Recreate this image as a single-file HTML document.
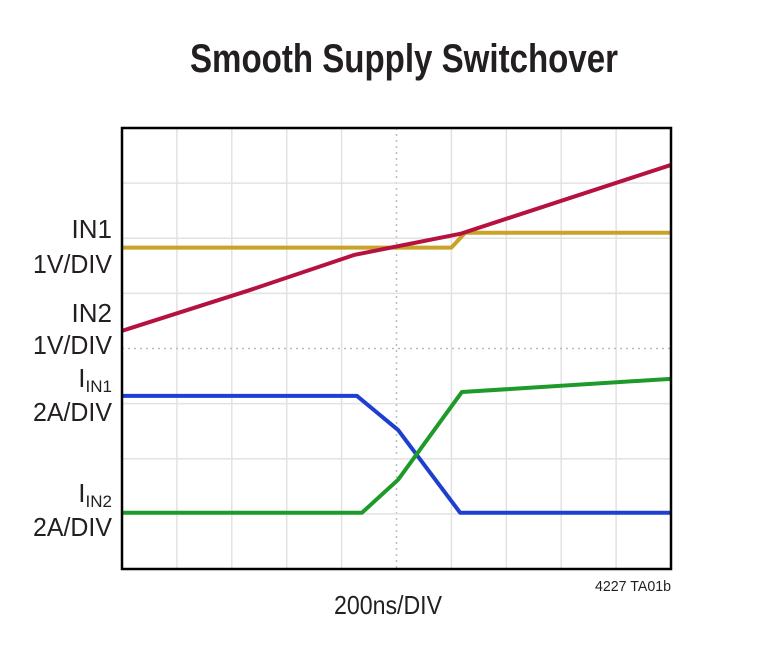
<!DOCTYPE html>
<html><head><meta charset="utf-8"><style>
html,body{margin:0;padding:0;background:#fff;}
svg{display:block;font-family:"Liberation Sans Narrow","Liberation Sans",sans-serif;}
</style></head><body>
<svg id="chart" width="767" height="645" viewBox="0 0 767 645" xmlns="http://www.w3.org/2000/svg">
<text x="404" y="72" text-anchor="middle" font-size="40" font-weight="bold" fill="#231f20" textLength="428" lengthAdjust="spacingAndGlyphs">Smooth Supply Switchover</text>
<g id="grid"></g>
<g id="traces"></g>
<rect x="122" y="128" width="549" height="441" fill="none" stroke="#000" stroke-width="2.5"/>
<g font-size="26" fill="#231f20" text-anchor="end">
<text x="112" y="238">IN1</text>
<text x="112" y="273" textLength="79" lengthAdjust="spacingAndGlyphs">1V/DIV</text>
<text x="112" y="322">IN2</text>
<text x="112" y="354" textLength="79" lengthAdjust="spacingAndGlyphs">1V/DIV</text>
<text x="112" y="387">I<tspan font-size="17" dy="5">IN1</tspan></text>
<text x="112" y="421" textLength="79" lengthAdjust="spacingAndGlyphs">2A/DIV</text>
<text x="112" y="502">I<tspan font-size="17" dy="5">IN2</tspan></text>
<text x="112" y="536" textLength="79" lengthAdjust="spacingAndGlyphs">2A/DIV</text>
</g>
<text x="388" y="614" text-anchor="middle" font-size="26" fill="#231f20" textLength="108" lengthAdjust="spacingAndGlyphs">200ns/DIV</text>
<text x="671" y="591" text-anchor="end" font-size="15" fill="#231f20" textLength="76" lengthAdjust="spacingAndGlyphs">4227 TA01b</text>
</svg>
<script>
const xDivs = [0,1,2,3,4,5,6,7,8,9,10];
const yDivs = [0,1,2,3,4,5,6,7,8];
const in1T = [0, 6.0, 6.25, 10];
const in1V = [5.83, 5.83, 6.10, 6.10];
const in2T = [0, 2.33, 4.24, 6.16, 10];
const in2V = [4.32, 5.06, 5.70, 6.08, 7.33];
const iin1T = [0, 4.28, 5.03, 6.16, 10];
const iin1V = [3.14, 3.14, 2.52, 1.02, 1.02];
const iin2T = [0, 4.37, 5.03, 6.19, 10];
const iin2V = [1.02, 1.02, 1.62, 3.21, 3.45];

const L=122,R=671,T=128,B=569;
const xs = d => L + d*(R-L)/10;
const ys = v => B - v*(B-T)/8;
const NS="http://www.w3.org/2000/svg";
const grid=document.getElementById('grid');
xDivs.slice(1,-1).forEach(d=>{
  const l=document.createElementNS(NS,'line');
  
  
  l.setAttribute('x1',xs(d));l.setAttribute('x2',xs(d));l.setAttribute('y1',T);l.setAttribute('y2',B);
  l.setAttribute('stroke', d===5?'#bbb':'#e2e2e2');l.setAttribute('stroke-width','1.5');
  if(d===5) l.setAttribute('stroke-dasharray','2 4');
  grid.appendChild(l);
});
yDivs.slice(1,-1).forEach(v=>{
  const l=document.createElementNS(NS,'line');
  
  
  l.setAttribute('x1',L);l.setAttribute('x2',R);l.setAttribute('y1',ys(v));l.setAttribute('y2',ys(v));
  l.setAttribute('stroke', v===4?'#bbb':'#e2e2e2');l.setAttribute('stroke-width','1.5');
  if(v===4) l.setAttribute('stroke-dasharray','2 4');
  grid.appendChild(l);
});
const traces=document.getElementById('traces');
function trace(t,v,color,name){
  const p=document.createElementNS(NS,'polyline');
  
  
  p.setAttribute('points',t.map((d,i)=>xs(d)+','+ys(v[i])).join(' '));
  p.setAttribute('fill','none');p.setAttribute('stroke',color);p.setAttribute('stroke-width','4');
  p.setAttribute('stroke-linejoin','round');
  traces.appendChild(p);
}
trace(in1T,in1V,'#c9a227','in1-voltage-trace');
trace(in2T,in2V,'#b5123f','in2-voltage-trace');
trace(iin1T,iin1V,'#1f3fd0','iin1-current-trace');
trace(iin2T,iin2V,'#1e9a2a','iin2-current-trace');
</script>
</body></html>
